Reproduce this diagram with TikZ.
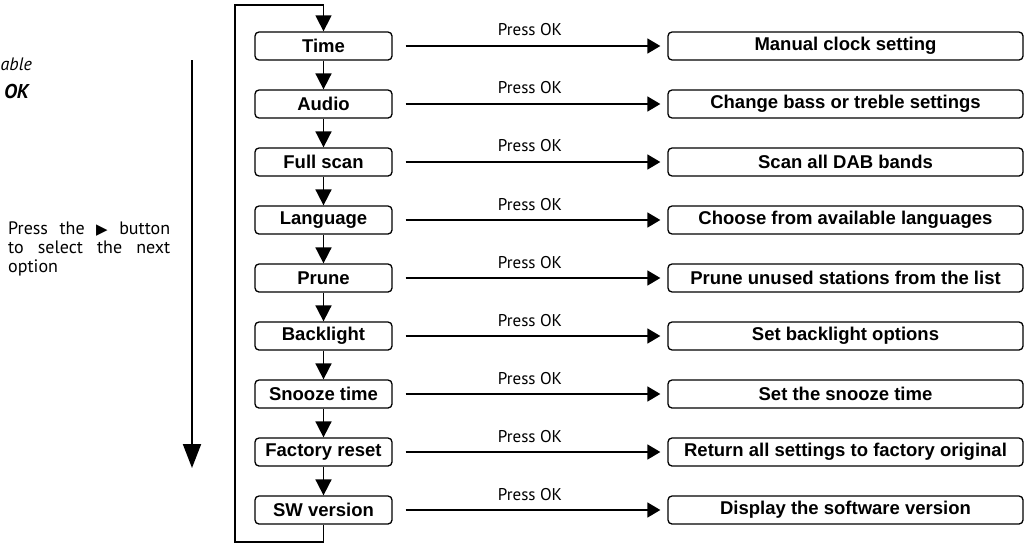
\documentclass[tikz,border=0pt]{standalone}
\usepackage{fontspec}
\setmainfont{Liberation Sans}
\newfontfamily\myriad{PT Sans}
\newfontfamily\symfont{DejaVu Sans}
\usetikzlibrary{arrows.meta,positioning}
\tikzset{
  optbox/.style={draw, line width=1.3pt, rounded corners=4pt, minimum width=137pt, minimum height=28pt, inner sep=0pt, font=\fontsize{18.5}{20}\selectfont\bfseries},
  resbox/.style={draw, line width=1.3pt, rounded corners=4pt, minimum width=355pt, minimum height=28pt, inner sep=0pt, font=\fontsize{18.5}{20}\selectfont\bfseries},
  harrow/.style={line width=1.6pt, -{Triangle[length=13pt,width=15pt]}, shorten <=13pt, shorten >=7pt},
  varrow/.style={line width=1.8pt, -{Triangle[length=16pt,width=16pt]}},
  lbl/.style={font=\myriad\fontsize{17}{19}\selectfont, inner sep=0pt},
}
\begin{document}
\begin{tikzpicture}[x=1pt,y=-1pt]
\useasboundingbox (0,0) rectangle (1025,544);
\fill[white] (0,0) rectangle (1025,544);
\node[font=\myriad\itshape\fontsize{18}{21}\selectfont, anchor=base west, inner sep=0pt] (pa) at (0.5,70) {able};
\node[font=\myriad\bfseries\itshape\fontsize{20}{22}\selectfont, anchor=base east, inner sep=0pt] (pb) at (29,98) {OK};
% rows
\foreach \n/\t/\r [count=\i] in {t1/Time/Manual clock setting,
  t2/Audio/Change bass or treble settings,
  t3/Full scan/Scan all DAB bands,
  t4/Language/Choose from available languages,
  t5/Prune/Prune unused stations from the list,
  t6/Backlight/Set backlight options,
  t7/Snooze time/Set the snooze time,
  t8/Factory reset/Return all settings to factory original,
  t9/SW version/Display the software version}{
  \node[optbox] (\n) at (323.5,{46+58*(\i-1)}) {\t};
  \node[resbox] (r\i) at (845.5,{46+58*(\i-1)}) {\r};
  \draw[harrow] (\n.east) -- node[lbl, above=9pt] {Press OK} (r\i.west);
}
\foreach \a/\b in {t1/t2,t2/t3,t3/t4,t4/t5,t5/t6,t6/t7,t7/t8,t8/t9}{
  \draw[varrow] (\a.south) -- (\b.north);
}
% loop
\coordinate (lb) at (235,542);
\coordinate (lt) at (235,5);
\draw[varrow, line width=1.5pt] (t9.south) |- (lb) -- (lt) -| (t1.north);
% big arrow
\coordinate (ba) at (192,60);
\coordinate (bb) at (192,468);
\draw[line width=2pt, -{Triangle[length=24pt,width=18pt]}] (ba) -- (bb);
% text
\node[lbl, anchor=north west, text width=162pt, align=justify] (txt) at (8,222) {\fontsize{18}{21.5}\selectfont Press the {\symfont\fontsize{15}{15}\selectfont ▶} button\linebreak to select the next\linebreak option};
\end{tikzpicture}
\end{document}
